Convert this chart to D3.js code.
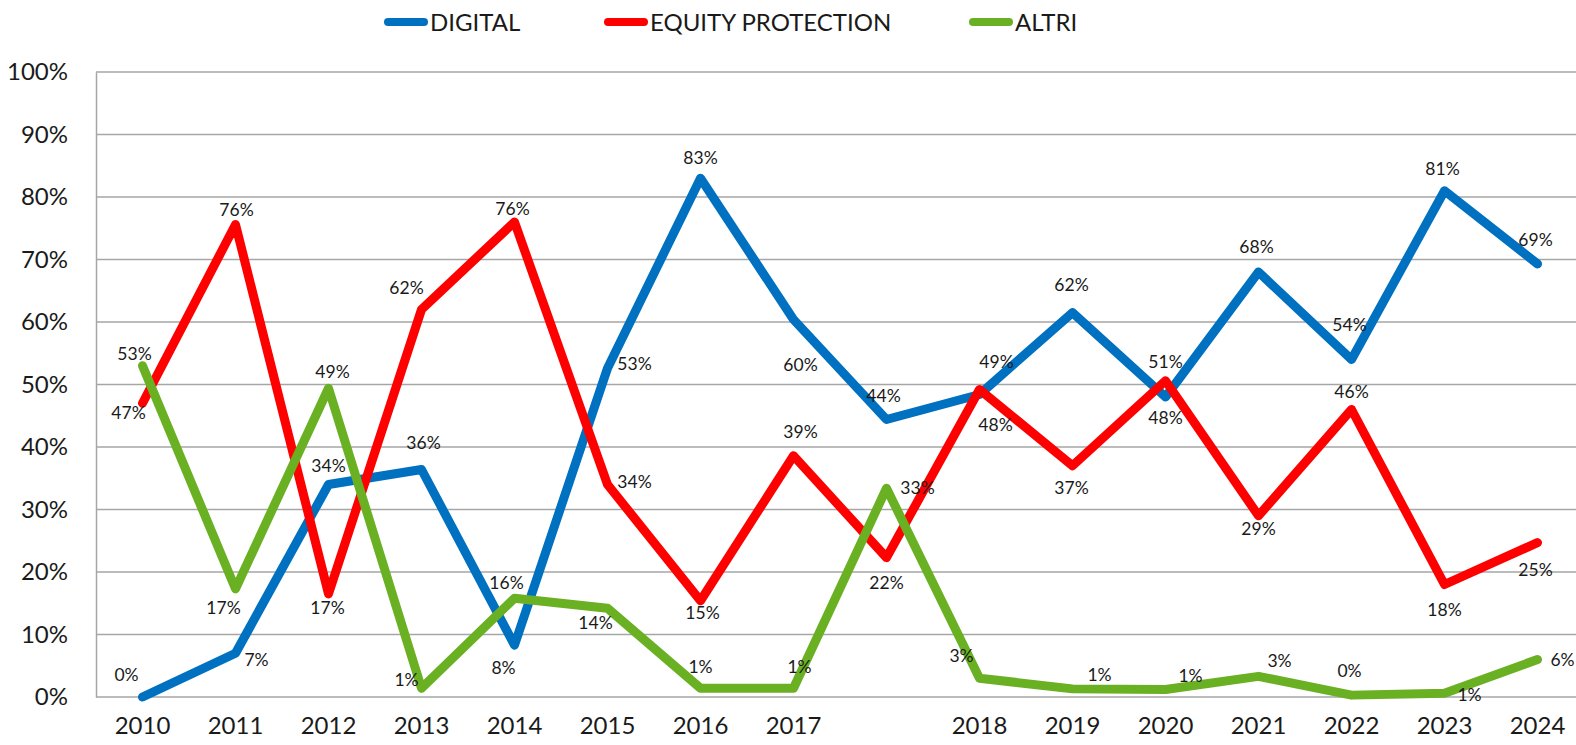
<!DOCTYPE html>
<html>
<head>
<meta charset="utf-8">
<script src="https://cdn.jsdelivr.net/npm/d3@7"></script>
<style>
  body { margin: 0; background: #fff; }
  text { font-family: Lato, "Open Sans", sans-serif; }
</style>
</head>
<body>
<div class="chart"></div>
<script>
var svgWidth = 1576;
var svgHeight = 745;

// categories (one unlabeled slot between 2017 and 2018)
var categories = ["2010", "2011", "2012", "2013", "2014", "2015", "2016", "2017", "",
  "2018", "2019", "2020", "2021", "2022", "2023", "2024"];

var yTicks = [0, 0.1, 0.2, 0.3, 0.4, 0.5, 0.6, 0.7, 0.8, 0.9, 1];

var seriesNames = ["DIGITAL", "EQUITY PROTECTION", "ALTRI"];
var seriesColors = ["#0070C0", "#FF0000", "#6AB023"];

var digital = [0, 0.07, 0.34, 0.364, 0.083, 0.526, 0.83, 0.604, 0.444, 0.484, 0.615, 0.48, 0.68, 0.54, 0.81, 0.693];
var equity = [0.47, 0.756, 0.165, 0.62, 0.76, 0.34, 0.154, 0.386, 0.223, 0.492, 0.37, 0.506, 0.29, 0.46, 0.18, 0.247];
var altri = [0.53, 0.173, 0.494, 0.014, 0.158, 0.142, 0.014, 0.014, 0.334, 0.03, 0.013, 0.012, 0.033, 0.003, 0.006, 0.06];

// data label nudges [dx, dy] relative to each point
var digitalLabelPos = [[-16, -22], [21, 7], [0, -19], [2, -27], [-11, 23], [27, -4], [0, -20], [7, 45],
  [-3, -24], [16, 30], [-1, -28], [0, 21], [-2, -25], [-2, -35], [-2, -22], [-2, -24]];
var equityLabelPos = [[-14, 10], [1, -15], [-1, 14], [-15, -22], [-2, -13], [27, -3], [2, 12], [7, -24],
  [0, 25], [17, -28], [-1, 22], [0, -19], [0, 13], [0, -18], [0, 25], [-2, 27]];
var altriLabelPos = [[-8, -12], [-12, 19], [4, -16], [-15, -8], [-8, -15], [-12, 15], [0, -21], [6, -21],
  [31, 0], [-18, -22], [27, -14], [25, -14], [21, -16], [-2, -24], [25, 2], [25, 0]];

var series = [
  { name: seriesNames[0], color: seriesColors[0], values: digital, labelPos: digitalLabelPos },
  { name: seriesNames[1], color: seriesColors[1], values: equity, labelPos: equityLabelPos },
  { name: seriesNames[2], color: seriesColors[2], values: altri, labelPos: altriLabelPos }
];

var plotLeft = 96;
var plotTop = 72;
var plotBottom = 697;
var bandW = 93;

var svg = d3.select(".chart")
  .append("svg")
  .attr("width", svgWidth)
  .attr("height", svgHeight);

var xScale = d3.scaleBand()
  .domain(d3.range(categories.length))
  .range([plotLeft, plotLeft + bandW * categories.length]);

var yScale = d3.scaleLinear()
  .domain([0, 1])
  .range([plotBottom, plotTop]);

var xc = i => xScale(i) + xScale.bandwidth() / 2;

// gridlines
svg.append("g")
  .selectAll("line")
  .data(yTicks)
  .enter()
  .append("line")
  .attr("x1", plotLeft)
  .attr("x2", svgWidth + 10)
  .attr("y1", d => yScale(d))
  .attr("y2", d => yScale(d))
  .attr("stroke", "#A6A6A6")
  .attr("stroke-width", 1.5);

// y axis
var leftAxis = d3.axisLeft(yScale)
  .tickValues(yTicks)
  .tickFormat(d3.format(".0%"))
  .tickSize(0)
  .tickPadding(28);

var yAxisG = svg.append("g")
  .attr("transform", `translate(${plotLeft}, 0)`)
  .call(leftAxis);
yAxisG.select(".domain").attr("stroke", "#A6A6A6").attr("stroke-width", 1.5);
yAxisG.selectAll("text")
  .attr("font-size", 24)
  .attr("fill", "#1a1a1a")
  .style("font-family", "Lato");

// x axis labels
var bottomAxis = d3.axisBottom(xScale)
  .tickFormat(i => categories[i])
  .tickSize(0)
  .tickPadding(20);

var xAxisG = svg.append("g")
  .attr("transform", `translate(0, ${plotBottom})`)
  .call(bottomAxis);
xAxisG.select(".domain").remove();
xAxisG.selectAll("text")
  .attr("font-size", 24)
  .attr("fill", "#1a1a1a")
  .style("font-family", "Lato");

// lines
var line = d3.line()
  .x((d, i) => xc(i))
  .y(d => yScale(d));

svg.append("g")
  .selectAll("path")
  .data(series)
  .enter()
  .append("path")
  .attr("d", d => line(d.values))
  .attr("fill", "none")
  .attr("stroke", d => d.color)
  .attr("stroke-width", 9)
  .attr("stroke-linejoin", "round")
  .attr("stroke-linecap", "round");

// data labels
var fmt = d3.format(".0%");
series.forEach(function (s) {
  svg.append("g")
    .selectAll("text")
    .data(s.values)
    .enter()
    .append("text")
    .attr("x", (d, i) => xc(i) + s.labelPos[i][0])
    .attr("y", (d, i) => yScale(d) + s.labelPos[i][1])
    .attr("dy", "0.35em")
    .attr("text-anchor", "middle")
    .attr("font-size", 17.5)
    .attr("fill", "#1a1a1a")
    .text(d => fmt(d));
});

// legend
var legendX = [388, 608, 973];
var legend = svg.append("g")
  .selectAll("g")
  .data(series)
  .enter()
  .append("g")
  .attr("transform", (d, i) => `translate(${legendX[i]}, 22)`);

legend.append("line")
  .attr("x1", 0)
  .attr("x2", 36)
  .attr("stroke", d => d.color)
  .attr("stroke-width", 8)
  .attr("stroke-linecap", "round");

legend.append("text")
  .attr("x", 42)
  .attr("dy", "0.36em")
  .attr("font-size", 24)
  .attr("fill", "#1a1a1a")
  .text(d => d.name);
</script>
</body>
</html>
